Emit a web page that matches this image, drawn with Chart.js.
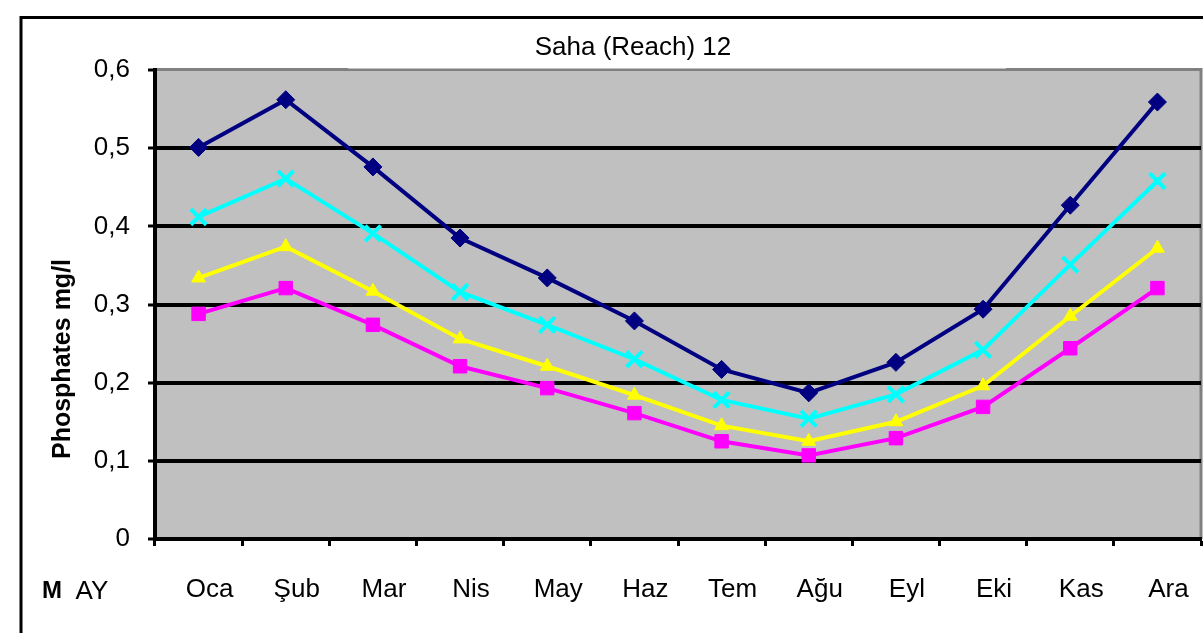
<!DOCTYPE html>
<html>
<head>
<meta charset="utf-8">
<script src="https://cdn.jsdelivr.net/npm/chart.js@4.4.1/dist/chart.umd.min.js"></script>
<style>
  html, body { margin: 0; padding: 0; background: #fff; }
  #wrap { width: 1203px; height: 633px; position: relative; }
</style>
</head>
<body>
<div id="wrap"><canvas id="myChart" width="1203" height="633"></canvas></div>
<script>
// months (Turkish abbreviations)
const months = ['Oca', 'Şub', 'Mar', 'Nis', 'May', 'Haz', 'Tem', 'Ağu', 'Eyl', 'Eki', 'Kas', 'Ara'];

// phosphate values per series
const navySeries    = [0.501, 0.562, 0.476, 0.385, 0.334, 0.279, 0.217, 0.187, 0.226, 0.294, 0.427, 0.559];
const cyanSeries    = [0.412, 0.461, 0.391, 0.316, 0.274, 0.230, 0.178, 0.154, 0.185, 0.242, 0.351, 0.458];
const yellowSeries  = [0.334, 0.374, 0.317, 0.256, 0.221, 0.184, 0.145, 0.125, 0.150, 0.196, 0.285, 0.372];
const magentaSeries = [0.288, 0.321, 0.274, 0.221, 0.193, 0.161, 0.125, 0.107, 0.129, 0.169, 0.244, 0.321];

const yTicks = [0, 0.1, 0.2, 0.3, 0.4, 0.5, 0.6];

const chartTitle = 'Saha (Reach) 12';
const yTitle = 'Phosphates mg/l';

const FONT = "'Liberation Sans', Arial, sans-serif";

// grey plot background, frame, title box and loose texts
const decor = {
  id: 'decor',
  beforeDraw(chart) {
    const c = chart.ctx;
    const a = chart.chartArea;
    c.save();
    c.fillStyle = '#fff';
    c.fillRect(0, 0, chart.width, chart.height);
    // outer frame
    c.strokeStyle = '#000';
    c.lineWidth = 3;
    c.beginPath();
    c.moveTo(21, 640);
    c.lineTo(21, 17.5);
    c.lineTo(1210, 17.5);
    c.stroke();
    // plot area
    c.fillStyle = '#c0c0c0';
    c.fillRect(a.left, a.top, a.right - a.left, a.bottom - a.top);
    c.strokeStyle = '#808080';
    c.lineWidth = 3;
    c.beginPath();
    c.moveTo(a.left, a.top - 0.5);
    c.lineTo(a.right, a.top - 0.5);
    c.lineTo(a.right, a.bottom);
    c.stroke();
    // title box covers part of the top border
    c.fillStyle = '#fff';
    c.fillRect(348, 22, 658, a.top - 1.5 - 22);
    c.restore();
  },
  afterDraw(chart) {
    const c = chart.ctx;
    c.save();
    c.fillStyle = '#000';
    c.textAlign = 'center';
    c.textBaseline = 'middle';
    c.font = '26px ' + FONT;
    c.fillText(chartTitle, 633, 48);
    c.fillText('AY', 92, 592);
    c.font = 'bold 24px ' + FONT;
    c.fillText('M', 52, 591);
    c.translate(63, 359);
    c.rotate(-Math.PI / 2);
    c.font = 'bold 25px ' + FONT;
    c.fillText(yTitle, 0, 0);
    c.restore();
  }
};

const ctx = document.getElementById('myChart').getContext('2d');

const chart = new Chart(ctx, {
  type: 'line',
  data: {
    labels: months,
    datasets: [
      {
        label: 'navy',
        data: navySeries,
        borderColor: '#000080',
        backgroundColor: '#000080',
        borderWidth: 4,
        pointStyle: 'rectRot',
        pointRadius: 9,
        pointBorderWidth: 1
      },
      {
        label: 'cyan',
        data: cyanSeries,
        borderColor: '#00ffff',
        backgroundColor: '#00ffff',
        borderWidth: 4,
        pointStyle: 'crossRot',
        pointRadius: 11,
        pointBorderWidth: 4
      },
      {
        label: 'yellow',
        data: yellowSeries,
        borderColor: '#ffff00',
        backgroundColor: '#ffff00',
        borderWidth: 4,
        pointStyle: 'triangle',
        pointRadius: 8,
        pointBorderWidth: 1
      },
      {
        label: 'magenta',
        data: magentaSeries,
        borderColor: '#ff00ff',
        backgroundColor: '#ff00ff',
        borderWidth: 4,
        pointStyle: 'rect',
        pointRadius: 9.5,
        pointBorderWidth: 1
      }
    ]
  },
  options: {
    responsive: false,
    animation: false,
    events: [],
    layout: { autoPadding: false, padding: { left: 0, top: 70, right: 2, bottom: 0 } },
    plugins: {
      legend: { display: false },
      title: { display: false },
      tooltip: { enabled: false }
    },
    elements: { line: { tension: 0 } },
    scales: {
      x: {
        offset: true,
        grid: {
          offset: true,
          drawOnChartArea: false,
          drawTicks: true,
          tickLength: 7,
          tickColor: '#000',
          tickWidth: 3
        },
        border: { color: '#000', width: 4 },
        ticks: {
          color: '#000',
          font: { family: FONT, size: 26 },
          padding: 28,
          labelOffset: 11,
          autoSkip: false,
          maxRotation: 0
        },
        afterFit(scale) {
          scale.height = 633 - 539;
          scale.paddingLeft = 0;
          scale.paddingRight = 0;
        }
      },
      y: {
        min: 0,
        max: 0.6,
        afterBuildTicks(scale) { scale.ticks = yTicks.map(v => ({ value: v })); },
        grid: {
          color: c => (c.tick && (c.tick.value === 0 || c.tick.value === 0.6)) ? 'rgba(0,0,0,0)' : '#000',
          lineWidth: 4,
          tickLength: 7,
          tickColor: '#000',
          tickWidth: 3
        },
        border: { color: '#000', width: 4 },
        ticks: {
          color: '#000',
          font: { family: FONT, size: 26 },
          padding: 18,
          callback: v => String(v).replace('.', ',')
        },
        afterFit(scale) {
          scale.width = 155;
          scale.paddingTop = 0;
          scale.paddingBottom = 0;
        }
      }
    }
  },
  plugins: [decor]
});
</script>
</body>
</html>
